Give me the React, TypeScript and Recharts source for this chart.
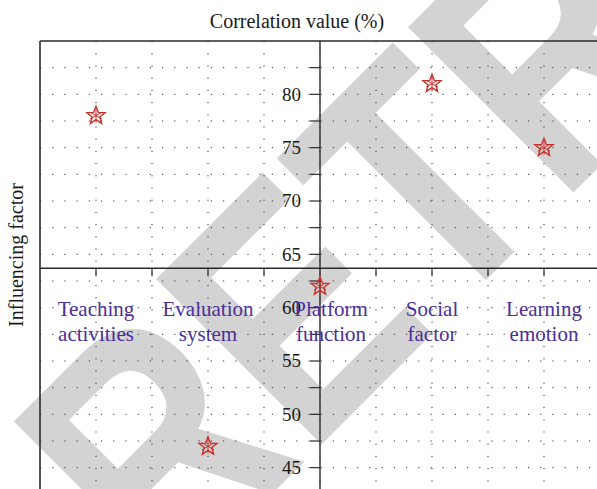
import { ScatterChart, Scatter, XAxis, YAxis, CartesianGrid, ReferenceLine, ReferenceDot } from 'recharts';

const categories = ['Teaching activities', 'Evaluation system', 'Platform function', 'Social factor', 'Learning emotion'];
const correlation = [78, 47, 62, 81, 75];

const gridX = [0, 0.5, 1, 1.5, 2, 2.5, 3, 3.5, 4];
const gridY = [42.5, 45, 47.5, 50, 52.5, 55, 57.5, 60, 62.5, 65, 67.5, 70, 72.5, 75, 77.5, 80, 82.5];
const xTickValues = [0, 0.5, 1, 1.5, 2.5, 3, 3.5, 4];
const yTickValues = [42.5, 45, 47.5, 50, 52.5, 55, 57.5, 60, 62.5, 65, 67.5, 70, 72.5, 75, 77.5, 80, 82.5];
const yTickLabels = [45, 50, 55, 60, 65, 70, 75, 80];

const crossX = 2;
const crossY = 63.7;

const data = categories.map((name, i) => ({ x: i, y: correlation[i], name }));

const serif = '"Liberation Serif", "DejaVu Serif", serif';
const axisColor = '#2a2a2a';
const markColor = '#c8302a';

const StarMark = (props: any) => {
  const { cx, cy } = props;
  const pts: string[] = [];
  for (let k = 0; k < 10; k++) {
    const r = k % 2 === 0 ? 9.5 : 4;
    const a = -Math.PI / 2 + (k * Math.PI) / 5;
    pts.push(`${cx + r * Math.cos(a)},${cy + r * Math.sin(a)}`);
  }
  const rays = [0, 1, 2, 3, 4, 5].map((k) => {
    const a = -Math.PI / 2 + (k * Math.PI) / 3;
    return (
      <line key={k} x1={cx} y1={cy} x2={cx + 7 * Math.cos(a)} y2={cy + 7 * Math.sin(a)} stroke={markColor} strokeWidth={1} />
    );
  });
  return (
    <g>
      <polygon points={pts.join(' ')} fill="none" stroke={markColor} strokeWidth={1.4} strokeLinejoin="miter" />
      {rays}
    </g>
  );
};

const YTick = (value: number) => (props: any) => {
  const { cx, cy } = props;
  return (
    <g>
      <line x1={cx - 10} x2={cx} y1={cy} y2={cy} stroke={axisColor} strokeWidth={1.2} />
      {yTickLabels.includes(value) && (
        <text x={cx - 19} y={cy} dy="0.34em" textAnchor="end" fontSize={19} fontFamily={serif} fill="#1a1a1a">
          {value}
        </text>
      )}
    </g>
  );
};

const XTick = (props: any) => {
  const { cx, cy } = props;
  return <line x1={cx} x2={cx} y1={cy} y2={cy + 8} stroke={axisColor} strokeWidth={1.2} />;
};

const CategoryLabel = (name: string, onAxis: boolean) => (props: any) => {
  const { cx, cy } = props;
  const [first, ...rest] = name.split(' ');
  const x = cx + (onAxis ? 11 : 0);
  return (
    <g fontFamily={serif} fontSize={21} fill="#4b2f9b" textAnchor="middle">
      <text x={x} y={cy + 48}>{first}</text>
      <text x={x} y={cy + 73}>{rest.join(' ')}</text>
    </g>
  );
};

export default function App() {
  return (
    <div style={{ position: 'absolute', left: 0, top: 0, width: 597, height: 489, overflow: 'hidden', background: '#fff' }}>
      <svg width={597} height={489} style={{ position: 'absolute', left: 0, top: 0 }}>
        <g transform="translate(166,600) rotate(-45) scale(0.82,1)">
          <text x={0} y={0} fontSize={340} fontWeight={700} fontFamily='"Liberation Sans", Arial, sans-serif' fill="#d3d3d3">
            RETRACTED
          </text>
        </g>
        <text x={297} y={28} textAnchor="middle" fontSize={20} fontFamily={serif} fill="#1a1a1a">
          Correlation value (%)
        </text>
        <text transform="translate(23,255) rotate(-90)" textAnchor="middle" fontSize={20} fontFamily={serif} fill="#1a1a1a">
          Influencing factor
        </text>
      </svg>
      <div style={{ position: 'absolute', left: 0, top: 0 }}>
        <ScatterChart width={600} height={530} margin={{ top: 41, right: 0, bottom: 9, left: 40 }}>
          <CartesianGrid horizontalValues={gridY} verticalValues={gridX} stroke="#333" strokeDasharray="1.2 11" />
          <XAxis type="number" dataKey="x" domain={[-0.5, 4.5]} allowDataOverflow hide />
          <YAxis type="number" dataKey="y" domain={[40, 85]} allowDataOverflow hide />
          <ReferenceLine x={-0.5} stroke={axisColor} strokeWidth={1.6} />
          <ReferenceLine y={85} stroke={axisColor} strokeWidth={1.6} />
          <ReferenceLine x={crossX} stroke={axisColor} strokeWidth={1.4} />
          <ReferenceLine y={crossY} stroke={axisColor} strokeWidth={1.4} />
          {yTickValues.map((v) => (
            <ReferenceDot key={`yt${v}`} x={crossX} y={v} shape={YTick(v)} />
          ))}
          {xTickValues.map((v) => (
            <ReferenceDot key={`xt${v}`} x={v} y={crossY} shape={XTick} />
          ))}
          {categories.map((c, i) => (
            <ReferenceDot key={`cl${i}`} x={i} y={crossY} shape={CategoryLabel(c, i === crossX)} />
          ))}
          <Scatter data={data} shape={StarMark} isAnimationActive={false} />
        </ScatterChart>
      </div>
    </div>
  );
}
